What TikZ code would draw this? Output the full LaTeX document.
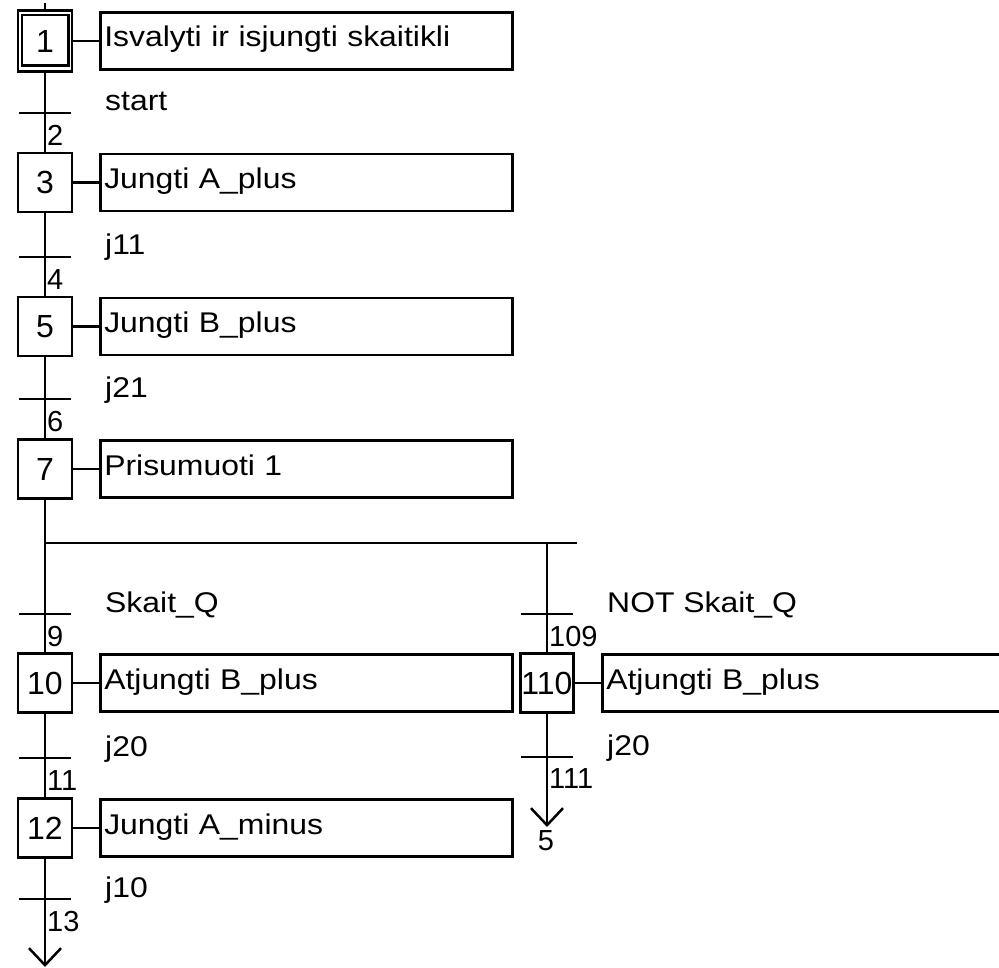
\documentclass[tikz,border=0pt]{standalone}
\usepackage{fontspec}
\setmainfont{Liberation Sans}
\newfontfamily\widefont[FakeStretch=1.12]{Liberation Sans}
\usetikzlibrary{arrows.meta}
\tikzset{
  link/.style={line width=2.5pt},
  stepbox/.style={draw, line width=2.5pt, minimum width=54pt, minimum height=59pt, inner sep=0pt, font=\fontsize{32}{34}\selectfont},
  actbox/.style={draw, line width=2.5pt, anchor=west, text width=404pt, align=left, inner xsep=4pt, inner ysep=0pt, text height=34.5pt, text depth=22.5pt, font=\widefont\fontsize{28.5}{30}\selectfont},
  trbar/.style={fill=black, minimum width=52pt, minimum height=2.5pt, inner sep=0pt},
  cond/.style={anchor=base west, inner sep=0pt, font=\widefont\fontsize{28.5}{30}\selectfont},
  tnum/.style={anchor=north west, inner sep=0pt, font=\fontsize{29}{31}\selectfont},
  tip/.style={-{Straight Barb[length=17pt,width=32pt]}}
}
\begin{document}
\begin{tikzpicture}[x=1pt,y=-1pt]
\fill[white] (0,0) rectangle (999,968);
\useasboundingbox (0,0) rectangle (999,968);

% steps
\node[stepbox, minimum height=61pt] (s1) at (45,41) {1};
\draw[link] ([shift={(5,6)}]s1.north west) rectangle ([shift={(-5,-7)}]s1.south east);
\node[stepbox] (s3) at (45,182.5) {3};
\node[stepbox] (s5) at (45,326.5) {5};
\node[stepbox] (s7) at (45,469) {7};
\node[stepbox] (s10) at (45,683) {10};
\node[stepbox] (s12) at (45,828) {12};
\node[stepbox, minimum width=53pt] (s110) at (547,683) {110};

% actions
\node[actbox] (a1) at (99,41) {Isvalyti ir isjungti skaitikli};
\node[actbox] (a3) at (99,182.5) {Jungti A\_plus};
\node[actbox] (a5) at (99,326.5) {Jungti B\_plus};
\node[actbox] (a7) at (99,469) {Prisumuoti 1};
\node[actbox] (a10) at (99,683) {Atjungti B\_plus};
\node[actbox] (a12) at (99,828) {Jungti A\_minus};
\node[actbox] (a110) at (601,683) {Atjungti B\_plus};

\foreach \s/\a in {s1/a1,s3/a3,s5/a5,s7/a7,s10/a10,s12/a12,s110/a110}
  \draw[link] (\s) -- (\a);

% transitions
\node[trbar] (t2) at (45,113) {};
\node[trbar] (t4) at (45,257) {};
\node[trbar] (t6) at (45,399) {};
\node[trbar] (t9) at (45,614) {};
\node[trbar] (t109) at (547,614) {};
\node[trbar] (t11) at (45,758) {};
\node[trbar] (t111) at (547,757) {};
\node[trbar] (t13) at (45,899) {};

% conditions
\node[cond] (c2) at (105,111) {start};
\node[cond] (c4) at (105,255) {j11};
\node[cond] (c6) at (105,397) {j21};
\node[cond] (c9) at (105,612) {Skait\_Q};
\node[cond] (c109) at (607,612) {NOT Skait\_Q};
\node[cond] (c11) at (105,756) {j20};
\node[cond] (c111) at (607,755) {j20};
\node[cond] (c13) at (105,897) {j10};

% transition numbers
\node[tnum] (n2) at (47,125) {2};
\node[tnum] (n4) at (47,269) {4};
\node[tnum] (n6) at (47,411) {6};
\node[tnum] (n9) at (47,626) {9};
\node[tnum] (n109) at (549,626) {109};
\node[tnum] (n11) at (47,770) {11};
\node[tnum] (n111) at (549,768) {111};
\node[tnum] (n13) at (47,911) {13};

% connectors
\coordinate (top) at (45,3);
\draw[link] (top) -- (s1);
\draw[link] (s1) -- (s3);
\draw[link] (s3) -- (s5);
\draw[link] (s5) -- (s7);
\draw[link] (s7) -- (s10);
\draw[link] (s10) -- (s12);
\coordinate (endL) at (45,967);
\draw[link,tip] (s12) -- (endL);

\coordinate (dL) at (45,543);
\coordinate (dR) at (547,543);
\coordinate (dE) at (577,543);
\draw[link] (dL) -- (dE);
\draw[link] (dR) -- (s110);
\coordinate (endR) at (547,827);
\draw[link,tip] (s110) -- (endR);
\node[tnum, anchor=north] (g5) at (546,830) {5};
\end{tikzpicture}
\end{document}
